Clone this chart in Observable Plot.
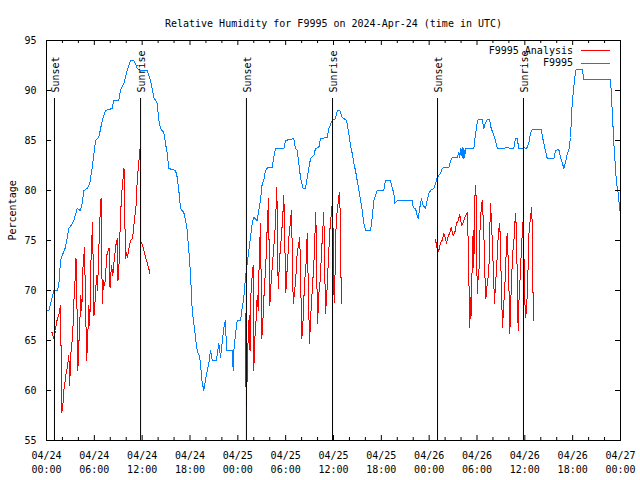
<!DOCTYPE html>
<html><head><meta charset="utf-8">
<script src="https://cdn.jsdelivr.net/npm/d3@7"></script>
<script src="https://cdn.jsdelivr.net/npm/@observablehq/plot@0.6"></script>
<style>body{margin:0;background:#fff} svg{display:block}</style>
</head><body><div id="chart"></div>
<script>
const title = "Relative Humidity for F9995 on 2024-Apr-24 (time in UTC)";
const yLabel = "Percentage";
const seriesNames = ["F9995 Analysis", "F9995"];
const seriesColors = ["#ff0000", "#0080ff"];
const yTicks = [55, 60, 65, 70, 75, 80, 85, 90, 95];
const xMajorHours = [0, 6, 12, 18, 24, 30, 36, 42, 48, 54, 60, 66, 72];
const xMinorHours = [2, 4, 8, 10, 14, 16, 20, 22, 26, 28, 32, 34, 38, 40, 44, 46, 50, 52, 56, 58, 62, 64, 68, 70];
const eventHours = [1.00, 11.80, 25.08, 35.88, 49.05, 59.83];
const eventLabels = ["Sunset", "Sunrise", "Sunset", "Sunrise", "Sunset", "Sunrise"];

// F9995 observations: hours since 2024-04-24 00:00 UTC, relative humidity %
const blueHours = [0,0.29,0.72,0.92,1.34,1.54,1.60,1.76,1.97,2.38,2.80,3.01,3.42,3.85,4.26,4.48,4.68,5.11,5.43,5.73,5.93,6.15,6.56,6.99,7.40,8.24,8.44,9.07,9.28,9.70,10.12,10.54,10.95,11.16,11.38,11.79,12.63,13.05,13.46,13.89,14.09,14.30,14.71,14.93,15.14,15.34,16.18,16.40,16.60,16.81,17.22,17.44,17.65,17.85,18.06,18.28,18.48,18.69,18.90,19.23,19.53,19.73,19.94,20.16,20.36,20.57,20.79,21.32,21.61,21.83,22.24,22.45,22.58,23.29,23.42,23.50,23.71,23.92,24.34,24.55,24.75,24.96,25.18,25.38,25.59,25.80,26.00,26.43,26.63,26.84,27.06,27.26,27.47,27.76,28.31,28.51,28.73,29.77,29.98,31.02,31.23,31.45,31.65,31.86,32.20,32.49,32.70,33.12,33.53,33.74,34.16,34.37,35.21,35.41,35.84,36.25,36.47,36.79,37.09,37.29,37.63,37.92,38.13,38.35,38.55,38.76,38.97,39.30,39.60,39.80,40.02,40.64,40.86,41.06,41.27,41.48,42.31,42.52,43.15,43.36,43.57,43.69,43.99,45.87,46.00,46.29,46.50,46.63,46.83,47.04,47.25,47.54,47.75,47.96,48.17,48.58,48.80,49.01,49.42,49.64,49.84,50.47,50.68,50.89,51.52,51.72,51.84,51.93,52.06,52.14,52.25,52.35,52.46,52.56,53.60,53.81,54.03,54.15,54.65,54.86,55.07,55.28,55.57,55.78,56.03,56.32,56.54,57.36,57.58,58.42,58.62,58.83,59.04,59.25,59.67,59.87,60.21,60.50,60.71,60.93,62.06,62.18,62.38,62.59,62.81,63.64,63.85,64.26,64.48,64.69,64.89,65.10,65.32,65.52,65.73,65.94,66.14,66.36,66.57,67.20,67.40,70.75,70.96,71.16,71.28,71.49,71.71,71.91];
const blueValues = [68,68,69.3,70,70,70.5,71.2,73,73.5,74.3,76.2,76.4,77,78.2,78,78.7,80,80.2,80.7,82.3,83.6,85,85.3,87,88,88.2,89,89,90,90.7,92,93,93,92.7,92.2,92,92,91,89.3,88.7,87,86.2,85.8,84.7,83.7,82.2,82,81.3,80,78.2,77.8,77,76,74,71.7,68,66.7,65.3,64,63.3,60.8,60,61,62,62.7,64,63,63,64.7,63.3,66.3,67,64,64,62,64,65.7,67,67,68.3,69.3,71.3,72.7,74,75.3,76.7,77.3,77,78,79,80.7,81,82,82.3,82.3,83.3,84.2,84.2,85,85.2,84.2,84,82.7,81.3,80.2,80.2,81.3,83.2,83.5,84.2,84.3,85.2,85.3,86.2,87,87.2,88,88,87.3,87.2,87,85.7,84.5,83.7,82.7,82,81,79.5,78,76.7,76,76,77.3,79,79.5,80,80,81,81,80.3,79.7,78.7,79,79,78.3,78.2,77.5,77.2,78.3,79.2,78.5,78.2,79,79.7,80,80.2,80.7,81.3,81.7,82.2,82.3,82.3,83,83.3,83.3,83.8,83.3,84.2,83.5,84.3,83.2,84.2,83.3,84.2,84.2,85.6,86.8,87.1,87.1,86.2,86.8,87.1,87.1,86.2,85.7,85,84.2,84.2,84.3,84.2,84.2,85.2,85.2,84.2,84.2,84.3,84.2,84.7,85.7,86.1,86.1,85.5,84.7,84,83.2,83.2,84,84.1,83.3,82.8,82.2,82.8,83.7,84,85.3,88.7,90.3,92,92.1,92.1,91.1,91.1,88,84.8,83.3,80.8,79.7,78];

// F9995 Analysis: three separate runs
const analysis1Hours = [0.69,0.92,1.13,1.25,1.42,1.59,1.76,1.84,1.92,2.04,2.17,2.30,2.42,2.60,2.72,2.80,2.92,3.01,3.22,3.35,3.42,3.55,3.70,3.83,3.93,4.05,4.18,4.30,4.43,4.55,4.77,4.89,5.04,5.18,5.31,5.43,5.56,5.77,5.96,6.15,6.27,6.40,6.56,6.69,6.84,7.00,7.15,7.31,7.44,7.61,7.84,7.97,8.15,8.32,8.49,8.69,8.91,8.97,9.12,9.28,9.47,9.72,9.91,10.04,10.16,10.35,10.54,10.79,10.98,11.23,11.38,11.54,11.73,11.79,12.04,12.29,12.54,12.80,12.98];
const analysis1Values = [65.8,65.2,66.0,66.8,67.3,67.7,68.5,63.3,57.8,58.3,60.0,60.7,61.5,62.3,63.0,63.5,60.5,63.3,65.0,66.8,68.7,70.5,73.2,68,62.0,64.5,66.8,69.5,68,72,74.3,69,63.0,65.5,68.5,66.5,72.5,76.8,67.5,69.5,71.5,70,74,77,79.2,68.7,71,70.5,72,73.8,74.2,70.3,72.5,71.5,73,74.5,75.2,71,73,77.5,80,82.2,73.2,73.8,73.3,74.3,75,75.2,76.7,78.5,81,82.5,84.2,75,74.5,73.8,73,72.3,71.7];
const analysis2Hours = [24.92,24.99,25.05,25.18,25.30,25.43,25.53,25.63,25.80,25.93,26.00,26.13,26.31,26.43,26.56,26.68,26.84,27.01,27.18,27.31,27.43,27.56,27.68,27.85,28.01,28.19,28.35,28.48,28.69,28.79,28.89,29.06,29.27,29.52,29.69,29.77,30.02,30.27,30.39,30.61,30.73,30.95,31.17,31.27,31.45,31.77,32.03,32.24,32.33,32.61,32.70,32.99,33.15,33.28,33.46,33.53,33.78,34.00,34.16,34.37,34.46,34.78,35.00,35.21,35.37,35.54,35.84,36.03,36.07,36.19,36.34,36.72,36.88,36.94,36.97];
const analysis2Values = [67.7,63.2,58.5,61.5,65.5,67.5,64,69.5,71.5,72.5,62,65.2,67.3,69.5,68,73,76.7,65.2,67.5,70,71.5,73.5,76.2,79.2,68.5,71,72.7,74,76.3,78.2,80.3,70.2,73.5,76,78.2,79.5,69.8,73.3,75.2,77,78,68.7,70.3,71.3,73.8,75.3,65.2,67.7,70.3,73.3,75.7,64.7,67.5,69.3,71.7,72.5,77.8,66.7,69.7,71.3,73.3,77.8,67.7,70.3,73.3,76,78.7,74,68.8,71.5,77,79.8,77.2,71.5,68.7];
const analysis3Hours = [48.79,49.09,49.21,49.42,49.63,49.84,50.05,50.17,50.34,50.59,50.76,51.01,51.22,51.43,51.64,51.85,52.06,52.27,52.47,52.77,52.89,53.10,53.19,53.27,53.39,53.52,53.60,53.73,53.85,53.94,54.02,54.15,54.27,54.36,54.44,54.65,54.77,54.86,54.98,55.11,55.28,55.48,55.69,55.82,55.94,56.11,56.20,56.32,56.45,56.61,56.74,56.86,56.95,57.07,57.20,57.37,57.49,57.62,57.78,57.87,57.99,58.12,58.20,58.33,58.45,58.62,58.75,58.83,58.95,59.04,59.16,59.25,59.37,59.46,59.58,59.71,59.79,59.87,60.00,60.13,60.21,60.29,60.42,60.54,60.71,60.84,60.92,61.00,61.05];
const analysis3Values = [75.1,73.8,74.0,74.8,75.0,75.7,75.2,74.7,75.3,75.8,76.3,75.5,75.8,76.7,77.0,77.6,76.5,76.8,77.3,77.8,75.0,66.3,69.3,67.5,72.3,76.0,72.3,79.3,80.5,77.3,69.7,71.3,72.3,75.7,77.3,79.0,77.3,75.7,71.7,69.2,70.7,71.8,78.7,76.8,74.5,70.7,68.7,70.7,72.0,74.7,76.2,76.7,74.0,70.0,66.3,68.8,70.3,73.0,75.7,74.0,71.0,65.7,68.3,70.7,73.5,74.8,76.7,77.7,76.0,71.7,66.0,68.7,70.5,72.3,74.2,76.2,77.0,74.3,68.8,67.3,68.7,69.3,72.5,76.2,77.2,78.3,76.8,72.7,67.0];

const t0 = Date.UTC(2024, 3, 24);
const toDate = h => new Date(t0 + h * 3600000);
const pairs = (hs, vs, seg) => hs.slice(0, Math.min(hs.length, vs.length)).map((h, i) => ({t: toDate(h), v: vs[i], seg}));

const blue = pairs(blueHours, blueValues, 0);
const red = [
  ...pairs(analysis1Hours, analysis1Values, 1),
  ...pairs(analysis2Hours, analysis2Values, 2),
  ...pairs(analysis3Hours, analysis3Values, 3)
];
const events = eventHours.map((h, i) => ({t: toDate(h), label: eventLabels[i]}));
const majorDates = xMajorHours.map(toDate);
const minorDates = xMinorHours.map(toDate);
const fmt = d3.utcFormat("%m/%d\n%H:%M");
const FONT = "'DejaVu Sans Mono', 'Liberation Mono', monospace";

const chart = Plot.plot({
  width: 640, height: 480,
  marginLeft: 46, marginRight: 20, marginTop: 40, marginBottom: 40,
  x: {type: "utc", domain: [toDate(0), toDate(72)], axis: null},
  y: {domain: [55, 95], axis: null},
  style: {fontFamily: FONT, fontSize: "10px", color: "black", background: "white"},
  marks: [
    Plot.line(red, {x: "t", y: "v", z: "seg", stroke: seriesColors[0], strokeWidth: 1, shapeRendering: "crispEdges"}),
    Plot.line(blue, {x: "t", y: "v", stroke: seriesColors[1], strokeWidth: 1, shapeRendering: "crispEdges"}),
    Plot.ruleX(events, {x: "t", insetTop: 58, stroke: "black", strokeWidth: 1}),
    Plot.text(events, {x: "t", text: "label", rotate: -90, textAnchor: "start", frameAnchor: "top", dy: 52, dx: -3, fill: "black"}),
    Plot.frame({stroke: "black"}),
    Plot.tickY(yTicks, {y: d => d, insetRight: 569, stroke: "black"}),
    Plot.tickY(yTicks, {y: d => d, insetLeft: 569, stroke: "black"}),
    Plot.tickX(majorDates, {x: d => d, insetTop: 395, stroke: "black"}),
    Plot.tickX(majorDates, {x: d => d, insetBottom: 395, stroke: "black"}),
    Plot.tickX(minorDates, {x: d => d, insetTop: 397, stroke: "black"}),
    Plot.tickX(minorDates, {x: d => d, insetBottom: 397, stroke: "black"}),
    Plot.text(yTicks, {y: d => d, text: d => String(d), frameAnchor: "left", dx: -10, textAnchor: "end", fill: "black"}),
    Plot.text(majorDates, {x: d => d, text: fmt, frameAnchor: "bottom", lineAnchor: "top", dy: 9, lineHeight: 1.4, fill: "black"}),
    Plot.text([title], {text: d => d, frameAnchor: "top", dy: -21, fill: "black"}),
    Plot.text([yLabel], {text: d => d, frameAnchor: "left", dx: -34, rotate: -90, fill: "black"})
  ]
});

// legend (top right, inside the frame)
const svg = d3.select(chart);
const leg = svg.append("g").attr("font-family", FONT).attr("font-size", 10);
seriesNames.forEach((name, i) => {
  const y = 50 + i * 12.5;
  leg.append("text").attr("x", 573).attr("y", y).attr("dy", "0.35em").attr("text-anchor", "end").attr("fill", "black").text(name);
  leg.append("line").attr("x1", 581).attr("x2", 610).attr("y1", Math.round(y) + 0.5).attr("y2", Math.round(y) + 0.5)
    .attr("stroke", seriesColors[i]).attr("stroke-width", 1);
});

document.getElementById("chart").appendChild(chart);
</script>
</body></html>
